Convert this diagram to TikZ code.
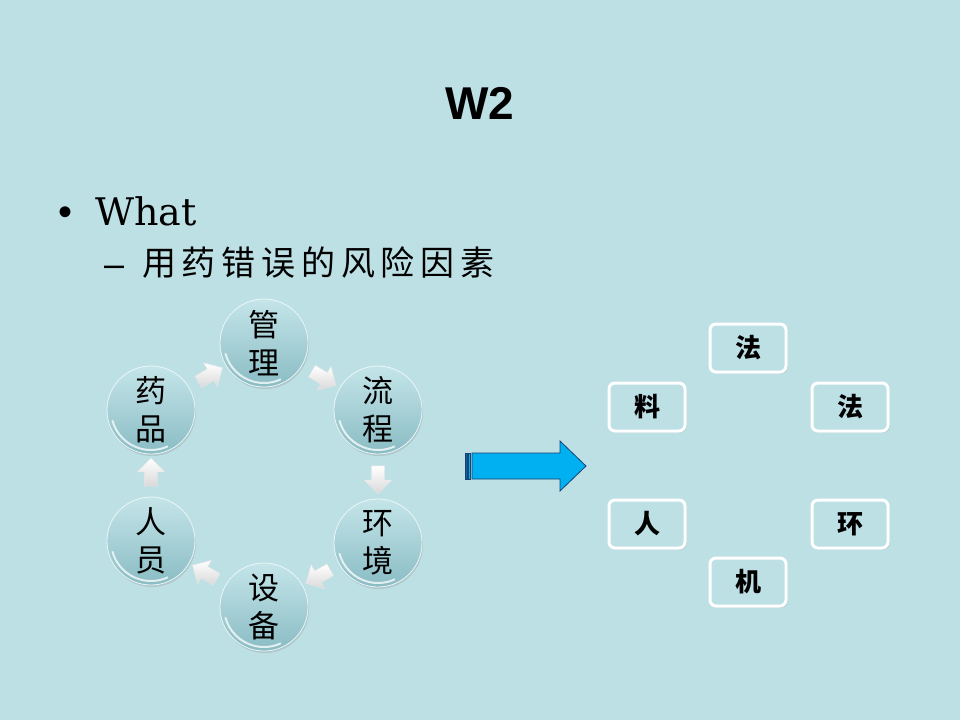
\documentclass[tikz,border=0pt]{standalone}
\usepackage{fontspec}
\newfontfamily\cjk{Noto Sans CJK SC}
\newfontfamily\arial{Liberation Sans}
\newfontfamily\slab{DejaVu Serif}
\usetikzlibrary{shapes.arrows,shadows}
\definecolor{slidebg}{RGB}{189,224,229}
\definecolor{ballhi}{RGB}{196,229,233}
\definecolor{balllo}{RGB}{138,188,196}
\definecolor{bigblue}{RGB}{0,176,240}
\definecolor{bigedge}{RGB}{25,65,115}
\begin{document}
\begin{tikzpicture}[x=1pt,y=-1pt]
      \tikzstyle{ball}=[circle, minimum size=88pt, inner sep=0pt, top color=ballhi, bottom color=balllo, draw=white!70!slidebg, line width=0.8pt, align=center, font=\cjk\fontsize{31}{38}\selectfont, drop shadow={shadow xshift=1pt, shadow yshift=-2pt, opacity=0.25}]
      \tikzstyle{flow}=[single arrow, minimum height=28pt, minimum width=25pt, inner sep=6.5pt, top color=white, bottom color=gray!30, draw=white!80!gray, line width=0.4pt, sloped, allow upside down]
      \tikzstyle{factor}=[rounded corners=6pt, draw=white, line width=3pt, fill=slidebg, minimum width=76pt, minimum height=48pt, font=\cjk\bfseries\fontsize{26}{26}\selectfont, drop shadow={shadow xshift=1.5pt, shadow yshift=-1.5pt, opacity=0.3}]
      \fill[slidebg] (0,0) rectangle (960,720);

      % title and bullets
      \node[font=\arial\bfseries\fontsize{46}{46}\selectfont] (title) at (480,103) {W2};
      \node[anchor=base west, inner sep=0pt, font=\arial\fontsize{40}{40}\selectfont] (dot) at (58,225) {•};
      \node[anchor=base west, inner sep=0pt, font=\slab\fontsize{38}{38}\selectfont] (what) at (95,225) {What};
      \node[anchor=base west, inner sep=0pt, font=\arial\fontsize{36}{36}\selectfont] (dash) at (104,276) {–};
      \node[anchor=base west, inner sep=0pt, font=\cjk\fontsize{34}{34}\selectfont\addfontfeature{LetterSpace=17}] (topic) at (142,275) {用药错误的风险因素};

      % cycle
      \node[ball] (gl) at (264,343) {管\\理};
      \node[ball] (lc) at (378,410) {流\\程};
      \node[ball] (hj) at (378,543) {环\\境};
      \node[ball] (sb) at (264,607) {设\\备};
      \node[ball] (ry) at (151,541) {人\\员};
      \node[ball] (yp) at (151,410) {药\\品};
      \foreach \n in {gl,lc,hj,sb,ry,yp}
        \draw[white, line width=2pt, opacity=0.75] (\n.center) ++(195:40pt) arc[start angle=195, end angle=295, radius=40pt];

      \path (gl) -- node[flow] {} (lc);
      \path (lc) -- node[flow] {} (hj);
      \path (hj) -- node[flow] {} (sb);
      \path (sb) -- node[flow] {} (ry);
      \path (ry) -- node[flow] {} (yp);
      \path (yp) -- node[flow] {} (gl);

      % big arrow
      \filldraw[fill=bigblue!60!black, draw=bigedge, line width=0.6pt] (465,453) rectangle (467,479);
      \filldraw[fill=bigblue, draw=bigedge, line width=0.6pt] (468.5,453) rectangle (470.5,479);
      \filldraw[fill=bigblue, draw=bigedge, line width=0.8pt] (472,453) -- (560,453) -- (560,441) -- (586,466) -- (560,491) -- (560,479) -- (472,479) -- cycle;

      % factors
      \node[factor] (fa1)  at (748,348) {法};
      \node[factor] (liao) at (647,407) {料};
      \node[factor] (fa2)  at (850,407) {法};
      \node[factor] (ren)  at (647,524) {人};
      \node[factor] (huan) at (850,524) {环};
      \node[factor] (ji)   at (748,582) {机};
    \end{tikzpicture}
\end{document}
